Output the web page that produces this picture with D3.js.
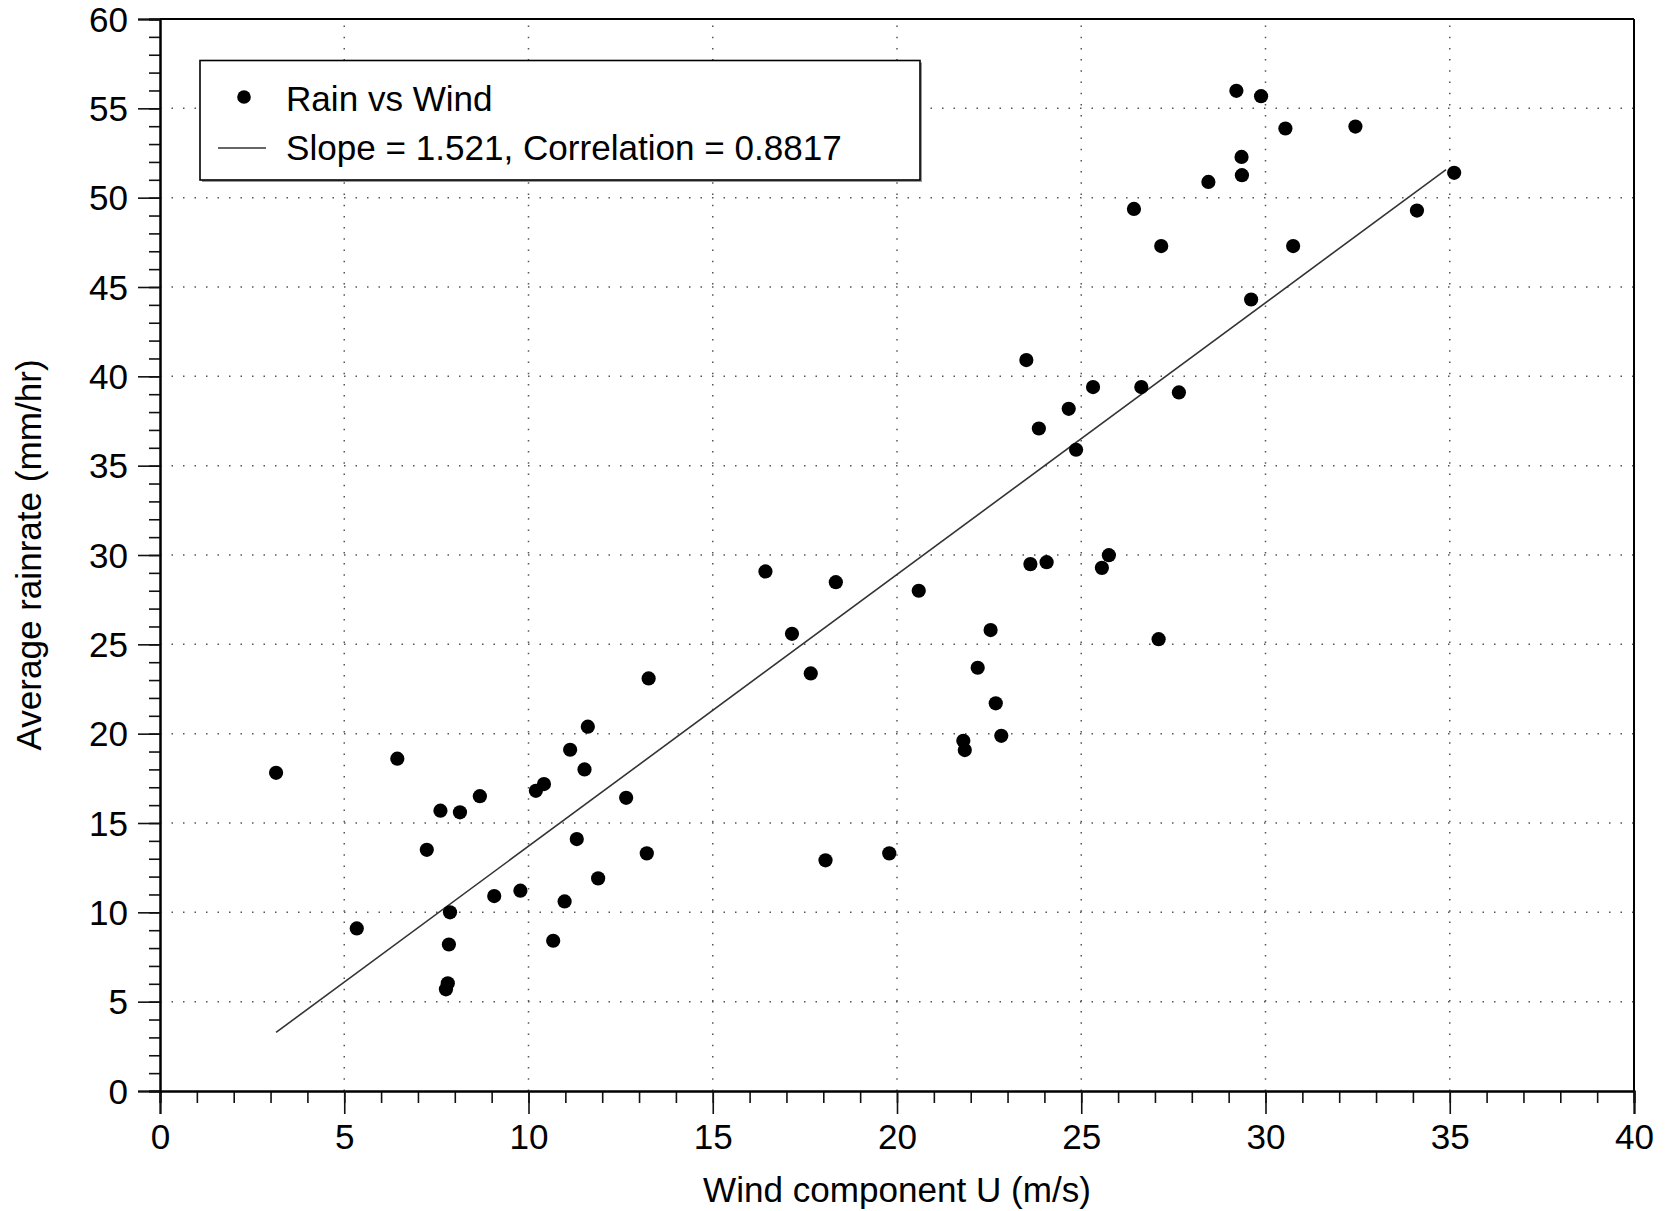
<!DOCTYPE html>
<html>
<head>
<meta charset="utf-8">
<script src="https://cdn.jsdelivr.net/npm/d3@7"></script>
<style>
  html, body { margin: 0; padding: 0; background: #fff; }
  svg { display: block; }
  text { font-family: "Liberation Sans", Arial, Helvetica, sans-serif; fill: #000; }
</style>
</head>
<body>
<script>
// ---- data ----
const windU = [3.15, 5.34, 6.44, 7.24, 7.61, 7.87, 7.84, 7.81, 7.76, 8.14,
  8.68, 9.07, 9.78, 10.2, 10.42, 10.67, 10.98, 11.13, 11.31, 11.52,
  11.61, 11.89, 12.65, 13.21, 13.26, 16.43, 17.15, 17.66, 18.06, 18.34,
  19.79, 20.59, 21.8, 21.84, 22.19, 22.54, 22.68, 22.83, 23.51, 23.62,
  23.85, 24.06, 24.66, 24.86, 25.32, 25.56, 25.75, 26.43, 26.63, 27.1,
  27.17, 27.65, 28.45, 29.21, 29.35, 29.36, 29.61, 29.88, 30.54, 30.75,
  32.44, 34.11, 35.12];
const rainRate = [17.81, 9.1, 18.6, 13.5, 15.69, 10.0, 8.2, 6.03, 5.69, 15.6,
  16.5, 10.91, 11.21, 16.8, 17.18, 8.41, 10.61, 19.1, 14.1, 18.0,
  20.39, 11.9, 16.41, 13.3, 23.09, 29.08, 25.59, 23.37, 12.91, 28.48,
  13.3, 28.0, 19.6, 19.08, 23.69, 25.8, 21.7, 19.88, 40.91, 29.49,
  37.08, 29.6, 38.18, 35.89, 39.4, 29.28, 29.99, 49.37, 39.4, 25.29,
  47.29, 39.1, 50.88, 55.98, 52.28, 51.26, 44.3, 55.68, 53.87, 47.29,
  53.98, 49.28, 51.39];
const fitSlope = 1.521;
const fitIntercept = -1.51;
const fitRange = [3.15, 34.9];
const correlation = 0.8817;
const xTicks = [0, 5, 10, 15, 20, 25, 30, 35, 40];
const yTicks = [0, 5, 10, 15, 20, 25, 30, 35, 40, 45, 50, 55, 60];
const seriesName = "Rain vs Wind";
const xTitle = "Wind component U (m/s)";
const yTitle = "Average rainrate (mm/hr)";

// ---- layout ----
const W = 1669, H = 1211;
const L = 160, R = 1634, T = 19, B = 1091;
const FS = 35.1;

const svg = d3.select("body").append("svg").attr("width", W).attr("height", H);

const x = d3.scaleLinear().domain([0, 40]).range([L, R]);
const y = d3.scaleLinear().domain([0, 60]).range([B, T]);

// grid (dotted)
const grid = svg.append("g");
grid.selectAll("line.gx").data(xTicks.filter(d => d > 0 && d < 40)).join("line")
  .attr("x1", d => x(d)).attr("x2", d => x(d)).attr("y1", B).attr("y2", T)
  .attr("stroke", "#555").attr("stroke-width", 1.5).attr("stroke-dasharray", "1.5,9.7");
grid.selectAll("line.gy").data(yTicks.filter(d => d > 0 && d < 60)).join("line")
  .attr("x1", L).attr("x2", R).attr("y1", d => y(d)).attr("y2", d => y(d))
  .attr("stroke", "#555").attr("stroke-width", 1.5).attr("stroke-dasharray", "1.5,10");

// frame top/right
svg.append("line").attr("x1", L).attr("x2", R).attr("y1", T).attr("y2", T).attr("stroke", "#000").attr("stroke-width", 2);
svg.append("line").attr("x1", R).attr("x2", R).attr("y1", T).attr("y2", B).attr("stroke", "#000").attr("stroke-width", 2);

// axes with minor ticks
const xMinor = d3.range(0, 41, 1);
const yMinor = d3.range(0, 61, 1);
const gxMinor = svg.append("g").attr("transform", `translate(0,${B})`)
  .call(d3.axisBottom(x).tickValues(xMinor).tickSize(12).tickFormat(""));
const gx = svg.append("g").attr("transform", `translate(0,${B})`)
  .call(d3.axisBottom(x).tickValues(xTicks).tickSize(23).tickPadding(10).tickFormat(d3.format("d")));
const gyMinor = svg.append("g").attr("transform", `translate(${L},0)`)
  .call(d3.axisLeft(y).tickValues(yMinor).tickSize(11).tickFormat(""));
const gy = svg.append("g").attr("transform", `translate(${L},0)`)
  .call(d3.axisLeft(y).tickValues(yTicks).tickSize(22).tickPadding(10).tickFormat(d3.format("d")));
[gx, gy, gxMinor, gyMinor].forEach(g => {
  g.select(".domain").attr("stroke", "#000").attr("stroke-width", 2);
  g.selectAll(".tick line").attr("stroke", "#111").attr("stroke-width", 1.6);
  g.selectAll(".tick text").attr("font-size", FS)
    .attr("font-family", '"Liberation Sans", Arial, Helvetica, sans-serif').attr("fill", "#000");
});
gx.selectAll(".tick text").attr("dy", "0.71em");
gy.selectAll(".tick text").attr("dy", "0.35em");

// axis titles
svg.append("text").attr("x", (L + R) / 2).attr("y", 1202).attr("text-anchor", "middle")
  .attr("font-size", FS).text(xTitle);
svg.append("text").attr("transform", `translate(41,${(T + B) / 2}) rotate(-90)`)
  .attr("text-anchor", "middle").attr("font-size", FS).text(yTitle);

// regression line
const fitLine = d3.line().x(d => x(d)).y(d => y(fitIntercept + fitSlope * d));
svg.append("path").attr("d", fitLine(fitRange)).attr("fill", "none")
  .attr("stroke", "#333").attr("stroke-width", 1.6);

// points
svg.append("g").selectAll("circle").data(windU.map((u, i) => [u, rainRate[i]])).join("circle")
  .attr("cx", d => x(d[0])).attr("cy", d => y(d[1])).attr("r", 7.1).attr("fill", "#000");

// legend
const lg = svg.append("g");
lg.append("rect").attr("x", 202).attr("y", 62.5).attr("width", 720).attr("height", 119.5).attr("fill", "#999");
lg.append("rect").attr("x", 200).attr("y", 60.5).attr("width", 720).attr("height", 119.5)
  .attr("fill", "#fff").attr("stroke", "#000").attr("stroke-width", 1.6);
lg.append("circle").attr("cx", 244).attr("cy", 97).attr("r", 6.8).attr("fill", "#000");
lg.append("text").attr("x", 286).attr("y", 110.5).attr("font-size", FS).text(seriesName);
lg.append("line").attr("x1", 218).attr("x2", 266).attr("y1", 148).attr("y2", 148)
  .attr("stroke", "#333").attr("stroke-width", 1.6);
lg.append("text").attr("x", 286).attr("y", 159.5).attr("font-size", FS)
  .text(`Slope = ${fitSlope.toFixed(3)}, Correlation = ${correlation}`);
</script>
</body>
</html>
